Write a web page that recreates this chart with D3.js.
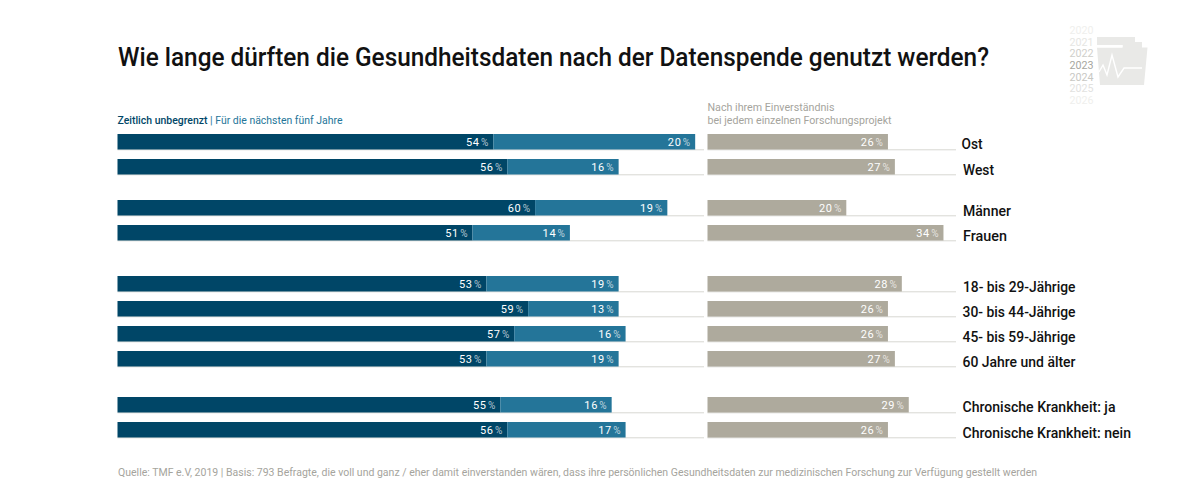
<!DOCTYPE html>
<html><head><meta charset="utf-8">
<script src="https://cdn.jsdelivr.net/npm/d3@7"></script>
<style>html,body{margin:0;background:#fff}svg{display:block}text{font-family:Roboto,sans-serif}</style></head>
<body><div id="c"></div>
<script>
const categories=["Ost","West","Männer","Frauen","18- bis 29-Jährige","30- bis 44-Jährige","45- bis 59-Jährige","60 Jahre und älter","Chronische Krankheit: ja","Chronische Krankheit: nein"];
const unbegrenzt=[54,56,60,51,53,59,57,53,55,56];
// The reference draws Ost's second segment longer than its printed label.
const fuenfJahre=[29,16,19,14,19,13,16,19,16,17];
const fuenfJahreLabels=[20,16,19,14,19,13,16,19,16,17];
const einzeln=[26,27,20,34,28,26,26,27,29,26];
const years=["2020","2021","2022","2023","2024","2025","2026"];
const title="Wie lange dürften die Gesundheitsdaten nach der Datenspende genutzt werden?";
const source="Quelle: TMF e.V, 2019 | Basis: 793 Befragte, die voll und ganz / eher damit einverstanden wären, dass ihre persönlichen Gesundheitsdaten zur medizinischen Forschung zur Verfügung gestellt werden";

// layout
const rowTops=[134,159,200,225,276,301,326,351,397,422];
const catBase=[149.3,175,216,240.8,292,316.8,341.8,367,412,437.7];
const catX=[961.5,963,963,963,963,962.5,962.5,962.5,962.5,962.5];
const catLen=[21,31,48,44,112.5,113,113,113,153,168.5];
const yearColors=["#efefed","#e6e6e3","#cfcfcb","#a6a6a0","#c8c8c4","#e2e2df","#efefed"];
const dark="#004667",mid="#247599",grey="#aeaa9d",rule="#d8d7d2";

const svg=d3.select("#c").append("svg").attr("width",1200).attr("height",489);
const xL=d3.scaleLinear().domain([0,100]).range([117.5,813.5]);
const xR=d3.scaleLinear().domain([0,100]).range([707.5,1401.5]);
const t=(x,y,s,size,fill,w,len)=>{const e=svg.append("text").attr("x",x).attr("y",y).attr("font-size",size).attr("fill",fill).attr("font-weight",w||400).text(s);if(len)e.attr("textLength",len).attr("lengthAdjust","spacingAndGlyphs");return e;};
t(118,65.5,title,25,"#111",500,871);
const h=t(117.5,124,"",10.5,dark,500);
h.append("tspan").text("Zeitlich unbegrenzt");
h.append("tspan").attr("fill",mid).attr("font-weight",400).text(" | Für die nächsten fünf Jahre");
h.attr("textLength",225).attr("lengthAdjust","spacingAndGlyphs");
t(707.5,111,"Nach ihrem Einverständnis",10.5,"#a5a49d",400,127);
t(707.5,124,"bei jedem einzelnen Forschungsprojekt",10.5,"#a5a49d",400,184);
const rows=categories.map((c,i)=>({c,i,a:unbegrenzt[i],b:fuenfJahre[i],bl:fuenfJahreLabels[i],g:einzeln[i],y:rowTops[i]}));
const barH=15.5;
const lab=(x,y,v)=>{const e=svg.append("text").attr("x",x).attr("y",y+12).attr("text-anchor","end").attr("font-size",11).attr("fill","#fff").attr("letter-spacing",.6);e.append("tspan").text(v);e.append("tspan").attr("dx",1.4).attr("font-size",10).attr("letter-spacing",0).attr("fill-opacity",.7).style("font-family","'Liberation Sans Narrow',Roboto,sans-serif").text("%");};
const g=svg.selectAll("g.row").data(rows).join("g").attr("class","row");
g.append("line").attr("x1",117.5).attr("x2",704).attr("y1",d=>d.y+15.8).attr("y2",d=>d.y+15.8).attr("stroke",rule);
g.append("line").attr("x1",707.5).attr("x2",956).attr("y1",d=>d.y+15.8).attr("y2",d=>d.y+15.8).attr("stroke",rule);
g.append("rect").attr("x",xL(0)).attr("y",d=>d.y).attr("height",barH).attr("width",d=>xL(d.a)-xL(0)).attr("fill",dark);
g.append("rect").attr("x",d=>xL(d.a)).attr("y",d=>d.y).attr("height",barH).attr("width",d=>xL(d.a+d.b)-xL(d.a)).attr("fill",mid);
g.append("rect").attr("x",xR(0)).attr("y",d=>d.y).attr("height",barH).attr("width",d=>xR(d.g)-xR(0)).attr("fill",grey);
rows.forEach(d=>{lab(xL(d.a)-5,d.y,d.a);lab(xL(d.a+d.b)-5,d.y,d.bl);lab(xR(d.g)-5,d.y,d.g);});
rows.forEach((d,i)=>t(catX[i],catBase[i],d.c,14.5,"#111",500,catLen[i]));
t(118,476,source,10.5,"#a5a49d",400,919);
// year stack + folder icon
years.forEach((y,i)=>t(1069.5,34+i*11.67,y,11,yearColors[i],400,24));
svg.append("path").attr("d","M1097 37H1135V45H1097Z").attr("fill","#e9e9e7");
svg.append("path").attr("d","M1097 47.5H1122.5V42H1142V47.5H1147.5L1144 85H1100Z").attr("fill","#e9e9e7");
svg.append("path").attr("d","M1122.5 42V47.5H1097V45H1122.5Z").attr("fill","#fff");
svg.append("path").attr("d","M1099 72L1103 65L1107 75L1112 55L1118 77L1124 68H1142").attr("fill","none").attr("stroke","#fff").attr("stroke-width",1.4);
</script></body></html>
